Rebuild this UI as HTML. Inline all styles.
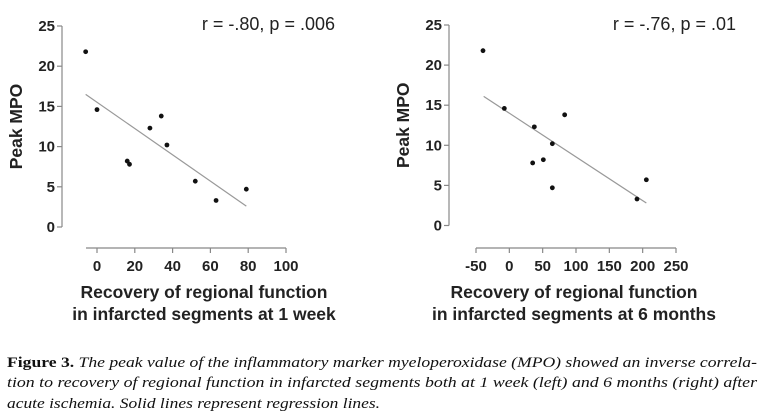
<!DOCTYPE html>
<html><head><meta charset="utf-8"><style>
html,body{margin:0;padding:0;background:#fff;}
svg{display:block;}
.tk{font-family:"Liberation Sans",Arial,sans-serif;font-weight:bold;font-size:15px;fill:#222;}
.tt{font-family:"Liberation Sans",Arial,sans-serif;font-weight:bold;font-size:17.5px;fill:#222;}
.st{font-family:"Liberation Sans",Arial,sans-serif;font-size:18px;fill:#222;}
.cap{font-family:"Liberation Serif",serif;font-size:15px;fill:#111;}
</style></head><body>
<svg id="fig" width="762" height="419" viewBox="0 0 762 419">
<g id="p1"></g>
<g id="p2"></g>
<text class="cap" x="7" y="367" textLength="750" lengthAdjust="spacingAndGlyphs"><tspan font-weight="bold" font-style="normal">Figure 3.</tspan><tspan font-style="italic"> The peak value of the inflammatory marker myeloperoxidase (MPO) showed an inverse correla-</tspan></text>
<text class="cap" x="7" y="387" textLength="750" lengthAdjust="spacingAndGlyphs" font-style="italic">tion to recovery of regional function in infarcted segments both at 1 week (left) and 6 months (right) after</text>
<text class="cap" x="7" y="408" textLength="373" lengthAdjust="spacingAndGlyphs" font-style="italic">acute ischemia. Solid lines represent regression lines.</text>
</svg>
<script>
const yTicks=[0,5,10,15,20,25];
const x1Ticks=[0,20,40,60,80,100];
const x1Vals=[-6,0,16,17.2,28,34,37,52,63,79];
const y1Vals=[21.8,14.6,8.2,7.8,12.3,13.8,10.2,5.7,3.3,4.7];
const fit1X=[-6,79];
const fit1Y=[16.5,2.6];
const x2Ticks=[-50,0,50,100,150,200,250];
const x2Vals=[-39.5,-7.5,37.5,83,64.5,51,35,64.5,191.5,205.5];
const y2Vals=[21.8,14.6,12.3,13.8,10.2,8.2,7.8,4.7,3.3,5.7];
const fit2X=[-38.5,205.5];
const fit2Y=[16.1,2.8];
const NS='http://www.w3.org/2000/svg';
function mk(p,tag,at,txt){const e=document.createElementNS(NS,tag);for(const k in at)e.setAttribute(k,at[k]);if(txt!==undefined)e.textContent=txt;p.appendChild(e);return e;}
function chart(g,c,xT,xs,ys,fx,fy,stat,t1,t2){
 const X=v=>c.x0+(v-c.xmin)*(c.x1-c.x0)/(c.xmax-c.xmin);
 const Y=v=>c.yb+(c.yt-c.yb)*v/25;
 let e=mk(g,'line',{x1:c.ya,x2:c.ya,y1:Y(0),y2:Y(25),stroke:'#888','stroke-width':1.2});
 
 
 yTicks.forEach(t=>{
  mk(g,'line',{x1:c.ya-5,x2:c.ya,y1:Y(t),y2:Y(t),stroke:'#888','stroke-width':1.2});
  e=mk(g,'text',{class:'tk',x:c.ya-7,y:Y(t)+5,'text-anchor':'end'},t);
  
  
 });
 e=mk(g,'line',{x1:c.xs,x2:X(xT[xT.length-1]),y1:c.xa,y2:c.xa,stroke:'#888','stroke-width':1.2});
 
 
 xT.forEach(t=>{
  mk(g,'line',{x1:X(t),x2:X(t),y1:c.xa,y2:c.xa+5,stroke:'#888','stroke-width':1.2});
  e=mk(g,'text',{class:'tk',x:X(t),y:c.xa+23,'text-anchor':'middle'},t);
  
  
 });
 e=mk(g,'line',{x1:X(fx[0]),y1:Y(fy[0]),x2:X(fx[1]),y2:Y(fy[1]),stroke:'#999','stroke-width':1.2});
 
 
 xs.forEach((v,i)=>{
  e=mk(g,'circle',{cx:X(v),cy:Y(ys[i]),r:2.4,fill:'#111'});
  
  
 });
 e=mk(g,'text',{class:'st',x:c.sx,y:30,'text-anchor':'end'},stat);
 
 
 e=mk(g,'text',{class:'tt',transform:`translate(${c.ya-40},${Y(12.5)}) rotate(-90)`,'text-anchor':'middle'},'Peak MPO');
 
 
 e=mk(g,'text',{class:'tt',x:c.tc,y:298,'text-anchor':'middle'},t1);
 
 
 e=mk(g,'text',{class:'tt',x:c.tc,y:320,'text-anchor':'middle'},t2);
 
 
}
chart(document.getElementById('p1'),{x0:97,x1:286,xmin:0,xmax:100,xs:86,xa:248,ya:62,yb:227,yt:26,sx:335,tc:204},x1Ticks,x1Vals,y1Vals,fit1X,fit1Y,'r = -.80, p = .006','Recovery of regional function','in infarcted segments at 1 week');
chart(document.getElementById('p2'),{x0:476,x1:676,xmin:-50,xmax:250,xs:476,xa:248,ya:449,yb:225.5,yt:25,sx:736,tc:574},x2Ticks,x2Vals,y2Vals,fit2X,fit2Y,'r = -.76, p = .01','Recovery of regional function','in infarcted segments at 6 months');
</script>
</body></html>
